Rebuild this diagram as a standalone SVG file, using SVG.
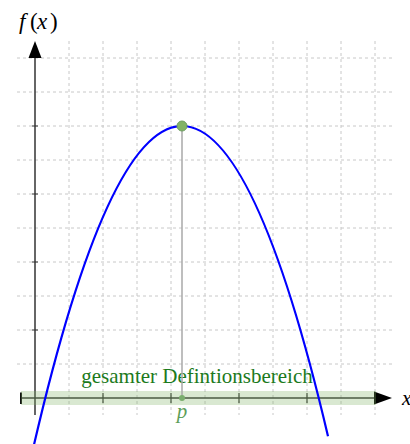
<svg xmlns="http://www.w3.org/2000/svg" width="410" height="444" viewBox="0 0 410 444">
<style>
.grid{stroke:#c8c8c8;stroke-width:1;stroke-dasharray:3 3;fill:none}
.axis{stroke:#333;stroke-width:1.5;fill:none}
.tick{stroke:#333;stroke-width:1.2}
.math{font-family:"Liberation Serif","Times New Roman",serif}
</style>
<rect width="410" height="444" fill="#fff"/>
<g id="grid" class="grid">
<path d="M17 58H392M17 92H392M17 126H392M17 160H392M17 194H392M17 228H392M17 262H392M17 296H392M17 330H392M17 364H392"/>
<path d="M69 41V415M103 41V415M137 41V415M171 41V415M205 41V415M239 41V415M273 41V415M307 41V415M341 41V415M375 41V415"/>
</g>
<g id="axes">
<path class="axis" d="M35 415V56"/>
<polygon points="35,41 28.5,58 41.5,58" fill="#000"/>
<path class="axis" d="M21 398H376"/>
<polygon points="392,398 374,391.5 374,404.5" fill="#000"/>
<path class="tick" d="M32 126H38M32 194H38M32 262H38M32 330H38"/>
<path class="tick" d="M103 393V403M171 393V403M239 393V403M307 393V403"/>
<path d="M21 392.5V404" stroke="#111" stroke-width="2"/>
</g>
<g id="domain">
<rect x="21" y="391" width="355" height="14" fill="#82b366" fill-opacity="0.3"/>
<text x="197" y="383" class="math" font-size="21" fill="#1c7a1c" text-anchor="middle">gesamter Defintionsbereich</text>
</g>
<g id="connectors">
<path d="M182 126V398" stroke="#a8a8a8" stroke-width="1.5"/>
<path id="curve" d="M33 449Q180.5 -190.5 328 436.2" fill="none" stroke="#0000ff" stroke-width="2.2"/>
</g>
<g id="vertex">
<circle cx="182" cy="126" r="5" fill="#82b366" stroke="#6f9f62" stroke-width="1"/>
</g>
<g id="p-point">
<circle cx="182" cy="398" r="3" fill="#7aad6e"/>
<text x="182" y="418" class="math" font-size="21" font-style="italic" fill="#5e9e58" text-anchor="middle">p</text>
</g>
<g id="labels">
<text class="math" font-size="23" y="29"><tspan x="19" font-style="italic">f</tspan><tspan x="30">(</tspan><tspan x="37" font-style="italic">x</tspan><tspan x="50">)</tspan></text>
<text class="math" font-size="21" font-style="italic" x="402" y="405">x</text>
</g>
</svg>
